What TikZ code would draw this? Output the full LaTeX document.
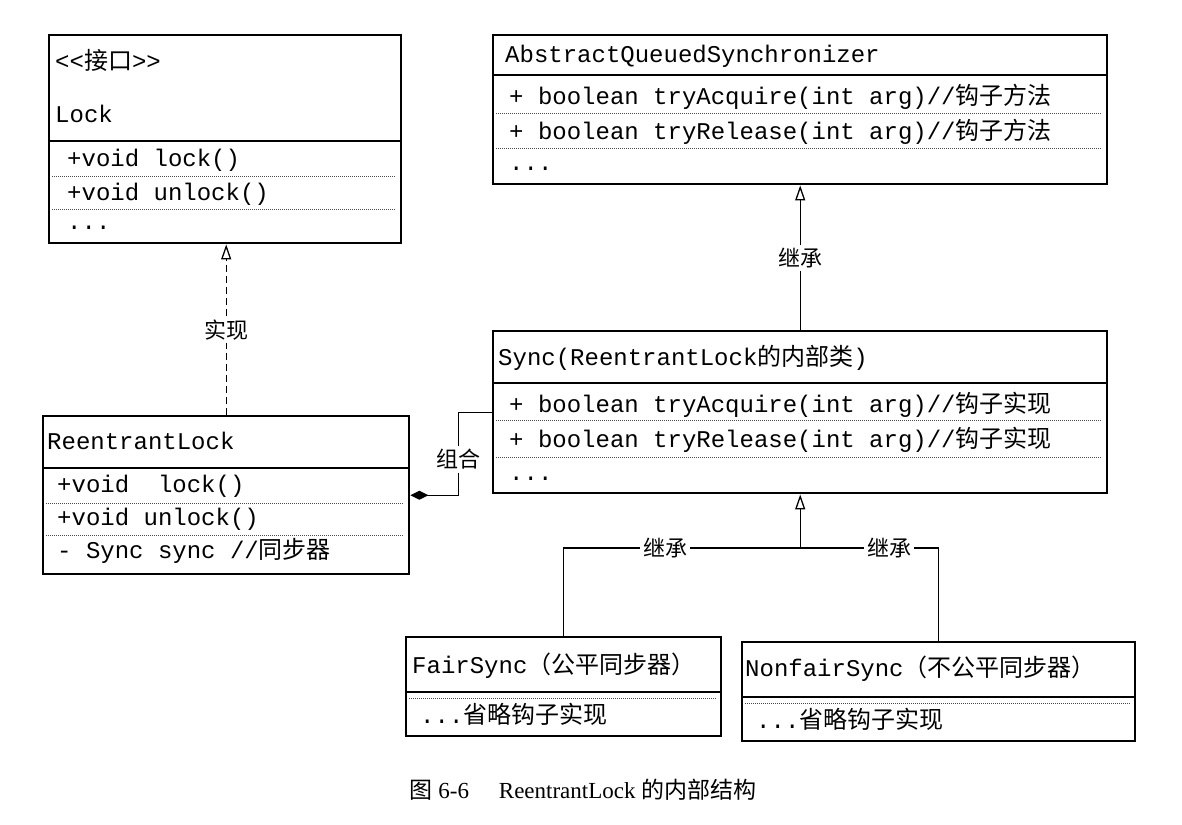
\documentclass[tikz,border=0pt]{standalone}
\usepackage{fontspec}
\setmainfont{Liberation Serif}
\setmonofont{Liberation Mono}
\newfontfamily\cjk{Noto Sans CJK SC}
\newcommand\zh[1]{{\cjk #1}}
\usetikzlibrary{arrows.meta}
\begin{document}
\begin{tikzpicture}[x=1pt,y=-1pt,
  box/.style={draw, line width=2.4pt, anchor=north west, inner sep=0pt},
  txt/.style={anchor=mid west, inner sep=0pt, yshift=-5pt, font=\ttfamily\fontsize{24}{24}\selectfont},
  hdiv/.style={line width=2.2pt},
  ddiv/.style={line width=0.8pt, dash pattern=on 1pt off 1pt, gray!60!black},
  conn/.style={line width=1.2pt},
  lbl/.style={fill=white, inner sep=3pt, font=\cjk\fontsize{22}{22}\selectfont},
  inh/.style={-{Triangle[open, length=15pt, width=10pt, line width=1.3pt]}},
  comp/.style={{Diamond[length=18pt, width=9pt]}-}
]
\useasboundingbox[fill=white] (0,0) rectangle (1182,824);

% ---------- Lock ----------
\node[box, minimum width=352pt, minimum height=208pt] (lock) at (48,34) {};
\draw[hdiv] (48,141) -- (400,141);
\draw[ddiv] (52,176) -- (396,176);
\draw[ddiv] (52,209) -- (396,209);
\node[txt] (lockst) at (55,62) {<<\zh{接口}>>};
\node[txt] (lockn) at (55,115) {Lock};
\node[txt] (lockm1) at (67,159) {+void lock()};
\node[txt] (lockm2) at (67,193) {+void unlock()};
\node[txt] (lockm3) at (67,222) {...};

% ---------- AQS ----------
\node[box, minimum width=614pt, minimum height=149pt] (aqs) at (492,34) {};
\draw[hdiv] (492,75) -- (1106,75);
\draw[ddiv] (496,113) -- (1102,113);
\draw[ddiv] (496,148) -- (1102,148);
\node[txt] (aqsn) at (505,55) {AbstractQueuedSynchronizer};
\node[txt] (aqsm1) at (509,97) {+ boolean tryAcquire(int arg)//\zh{钩子方法}};
\node[txt] (aqsm2) at (509,132) {+ boolean tryRelease(int arg)//\zh{钩子方法}};
\node[txt] (aqsm3) at (509,163) {...};

% ---------- Sync ----------
\node[box, minimum width=614pt, minimum height=162pt] (sync) at (492,330) {};
\draw[hdiv] (492,383) -- (1106,383);
\draw[ddiv] (496,420) -- (1102,420);
\draw[ddiv] (496,457) -- (1102,457);
\node[txt] (syncn) at (498,358) {Sync(ReentrantLock\zh{的内部类})};
\node[txt] (syncm1) at (509,405) {+ boolean tryAcquire(int arg)//\zh{钩子实现}};
\node[txt] (syncm2) at (509,440) {+ boolean tryRelease(int arg)//\zh{钩子实现}};
\node[txt] (syncm3) at (509,473) {...};

% ---------- ReentrantLock ----------
\node[box, minimum width=366pt, minimum height=158pt] (rl) at (42,415) {};
\draw[hdiv] (42,468) -- (408,468);
\draw[ddiv] (46,503) -- (404,503);
\draw[ddiv] (46,535) -- (404,535);
\node[txt] (rln) at (47,442) {ReentrantLock};
\node[txt] (rlm1) at (57,485) {+void\ \ lock()};
\node[txt] (rlm2) at (57,518) {+void unlock()};
\node[txt] (rlm3) at (57,551) {- Sync sync //\zh{同步器}};

% ---------- FairSync ----------
\node[box, minimum width=315pt, minimum height=99pt] (fair) at (405,636) {};
\draw[hdiv] (405,692) -- (720,692);
\draw[ddiv] (409,698) -- (716,698);
\node[txt] (fairn) at (412,666) {FairSync\zh{（公平同步器）}};
\node[txt] (fairm) at (420,716) {...\zh{省略钩子实现}};

% ---------- NonfairSync ----------
\node[box, minimum width=393pt, minimum height=99pt] (nfair) at (741,641) {};
\draw[hdiv] (741,697) -- (1134,697);
\draw[ddiv] (745,703) -- (1130,703);
\node[txt] (nfairn) at (745,669) {NonfairSync\zh{（不公平同步器）}};
\node[txt] (nfairm) at (756,721) {...\zh{省略钩子实现}};

% ---------- connectors ----------
\draw[conn, dashed, dash pattern=on 7pt off 4pt, inh] (rl.north) -- node[lbl]{实现} (rl.north |- lock.south);
\draw[conn, inh] (sync.north) -- node[lbl]{继承} (aqs.south);

\draw[conn, comp] (rl.east) -- ++(48,0) coordinate (c1)
   -- node[lbl, pos=0.43]{组合} (c1 |- sync.west) -- (sync.west);

\coordinate (j) at (sync.south |- 0,548);
\draw[conn, inh] (j) -- (sync.south);
\draw[conn] (fair.north) |- node[lbl, pos=0.715]{继承} (j);
\draw[conn] (nfair.north) |- node[lbl, pos=0.678]{继承} (j);

% ---------- caption ----------
\node[inner sep=0pt, font=\fontsize{23}{23}\selectfont] (cap) at (583,790)
  {\zh{图} 6-6\hspace{1.3em}ReentrantLock \zh{的内部结构}};
\end{tikzpicture}
\end{document}
